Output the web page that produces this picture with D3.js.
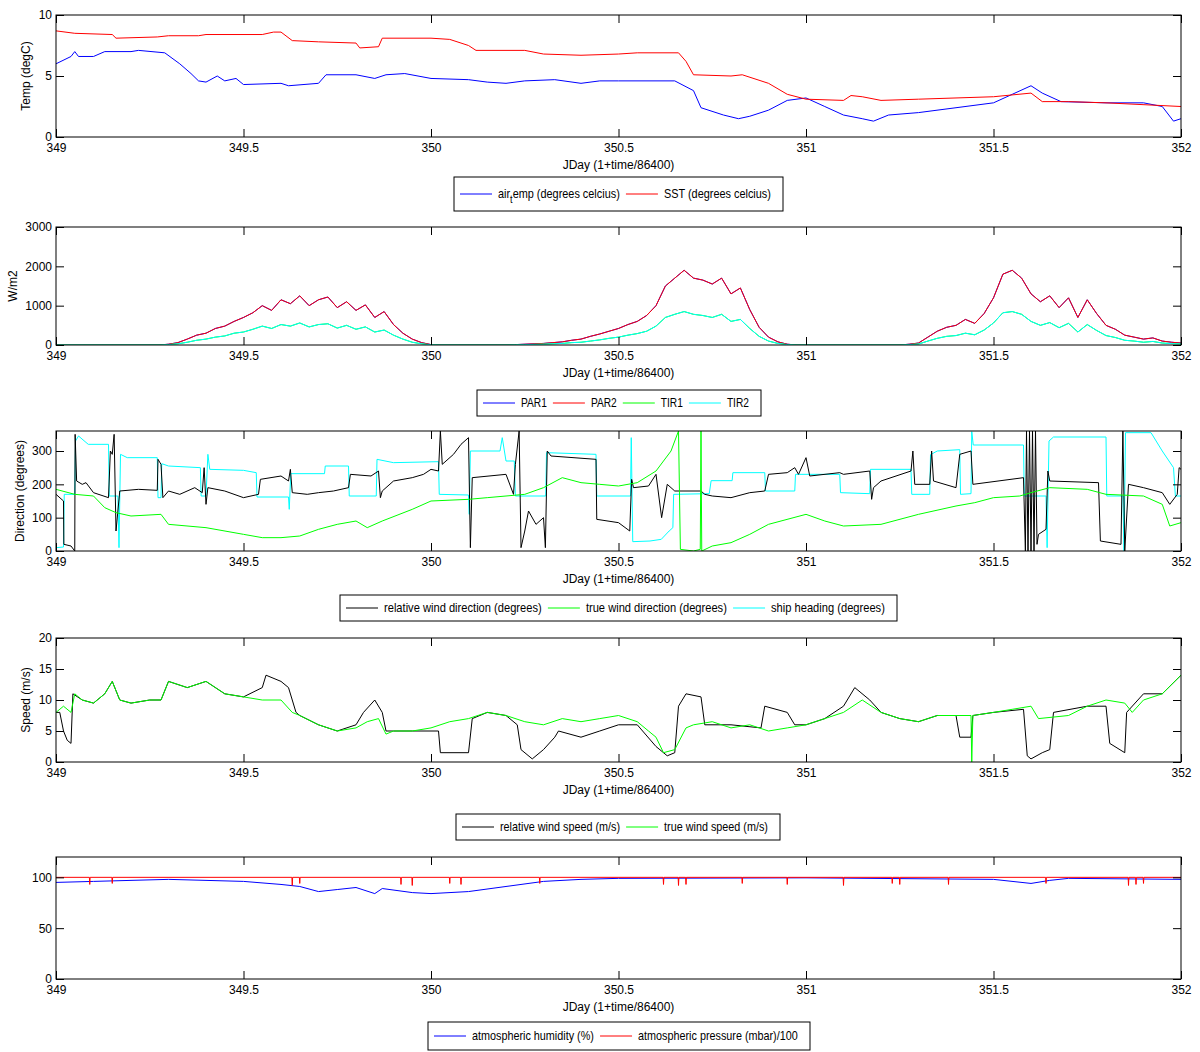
<!DOCTYPE html>
<html><head><meta charset="utf-8">
<script src="https://cdn.jsdelivr.net/npm/d3@7"></script>
<style>body{margin:0;background:#fff}text{font-family:"Liberation Sans",Arial,sans-serif;font-size:12px}</style>
</head><body>
<script>
// ---- data ----
var xTicks = [349, 349.5, 350, 350.5, 351, 351.5, 352];

var airTemp = [[349,6.0],[349.04,6.6],[349.05,7.0],[349.06,6.6],[349.1,6.6],[349.13,7.0],[349.2,7.0],[349.22,7.1],[349.29,6.9],[349.33,6.0],[349.36,5.2],[349.38,4.6],[349.4,4.5],[349.43,5.0],[349.45,4.6],[349.48,4.8],[349.5,4.3],[349.6,4.4],[349.62,4.2],[349.7,4.4],[349.72,5.1],[349.8,5.1],[349.85,4.8],[349.88,5.1],[349.93,5.2],[350.0,4.8],[350.1,4.7],[350.15,4.5],[350.2,4.4],[350.25,4.6],[350.33,4.7],[350.4,4.4],[350.45,4.6],[350.5,4.6],[350.65,4.6],[350.7,3.8],[350.72,2.4],[350.78,1.8],[350.82,1.5],[350.85,1.7],[350.9,2.2],[350.95,3.0],[351.0,3.2],[351.05,2.5],[351.1,1.8],[351.15,1.5],[351.18,1.3],[351.22,1.8],[351.3,2.0],[351.4,2.4],[351.5,2.8],[351.55,3.5],[351.6,4.2],[351.63,3.6],[351.68,2.9],[351.8,2.8],[351.9,2.8],[351.95,2.5],[351.98,1.3],[352,1.5]];
var sst = [[349,8.7],[349.05,8.5],[349.15,8.4],[349.16,8.1],[349.27,8.2],[349.3,8.3],[349.38,8.3],[349.4,8.4],[349.55,8.4],[349.58,8.6],[349.6,8.6],[349.63,7.9],[349.7,7.8],[349.8,7.7],[349.81,7.3],[349.86,7.4],[349.87,8.1],[350.0,8.1],[350.05,8.0],[350.1,7.5],[350.12,7.1],[350.25,7.1],[350.3,6.8],[350.4,6.7],[350.5,6.8],[350.55,6.9],[350.66,6.9],[350.68,6.2],[350.7,5.1],[350.8,5.0],[350.83,5.1],[350.9,4.4],[350.95,3.5],[351.0,3.1],[351.1,3.0],[351.12,3.4],[351.15,3.3],[351.2,3.0],[351.3,3.1],[351.4,3.2],[351.5,3.3],[351.6,3.6],[351.63,2.9],[351.7,2.9],[351.8,2.8],[352,2.5]];

// radiation sampled every 0.025 day from 349
var radStart = 349, radStep = 0.025;
var par = [0,0,0,0,0,0,0,0,0,0,0,0,20,60,150,250,300,420,480,600,700,820,1000,880,1150,1050,1250,1000,1150,1220,950,1100,880,1020,700,850,520,300,150,60,10,
 0,0,0,0,0,0,0,0,10,20,30,40,60,80,120,150,220,280,350,420,520,600,750,1000,1500,1700,1900,1700,1650,1550,1700,1300,1450,900,450,200,80,20,0,0,
 0,0,0,0,0,0,0,0,0,0,20,50,200,350,450,500,650,550,800,1200,1800,1900,1700,1300,1100,1250,950,1200,700,1150,800,500,400,250,200,150,180,100,70,50];
var tir = [0,0,0,0,0,0,0,0,0,0,0,0,10,30,70,120,150,200,230,300,330,400,480,420,520,480,560,460,520,540,430,500,400,460,330,380,250,150,70,30,5,
 0,0,0,0,0,0,0,0,5,10,15,20,30,40,60,70,100,130,170,200,250,290,350,480,700,780,850,780,750,700,780,600,650,420,220,100,40,10,0,0,
 0,0,0,0,0,0,0,0,0,0,10,25,100,170,220,240,300,260,380,560,820,850,780,600,500,570,440,550,330,520,370,240,190,120,100,70,90,50,35,25];

var shipHeading = [[349,10],[349.02,12],[349.022,170],[349.05,170],[349.052,330],[349.06,345],[349.086,320],[349.14,320],[349.142,165],[349.165,165],[349.168,10],[349.172,290],[349.19,280],[349.27,280],[349.272,160],[349.28,160],[349.282,262],[349.3,255],[349.385,250],[349.387,165],[349.4,165],[349.405,290],[349.41,245],[349.5,242],[349.534,235],[349.536,162],[349.62,162],[349.622,125],[349.626,232],[349.716,232],[349.718,255],[349.78,255],[349.782,165],[349.854,165],[349.856,275],[349.9,265],[350.02,268],[350.022,170],[350.1,168],[350.102,110],[350.105,300],[350.184,300],[350.19,340],[350.2,270],[350.222,270],[350.225,165],[350.306,165],[350.308,295],[350.44,290],[350.442,165],[350.532,165],[350.534,340],[350.538,28],[350.584,30],[350.614,35],[350.635,60],[350.645,70],[350.647,170],[350.742,172],[350.747,211],[350.803,211],[350.805,235],[350.89,235],[350.892,180],[350.97,180],[350.972,230],[351.09,230],[351.092,175],[351.17,172],[351.172,245],[351.28,245],[351.282,170],[351.33,170],[351.332,289],[351.35,300],[351.41,304],[351.412,170],[351.44,172],[351.442,358],[351.446,318],[351.58,318],[351.582,165],[351.64,165],[351.643,10],[351.648,330],[351.66,342],[351.8,342],[351.802,165],[351.845,165],[351.848,0],[351.852,355],[351.92,355],[351.95,300],[351.98,250],[351.985,165],[352,165]];
var relDir = [[349,170],[349.02,150],[349.021,20],[349.04,15],[349.05,0],[349.051,350],[349.055,210],[349.07,200],[349.08,205],[349.1,175],[349.14,160],[349.145,300],[349.15,290],[349.155,350],[349.16,60],[349.17,180],[349.22,185],[349.27,182],[349.272,275],[349.28,260],[349.285,160],[349.3,180],[349.33,170],[349.37,190],[349.39,175],[349.395,250],[349.4,140],[349.405,190],[349.45,180],[349.5,160],[349.54,170],[349.545,215],[349.6,225],[349.62,210],[349.625,245],[349.63,175],[349.67,170],[349.7,175],[349.74,180],[349.78,190],[349.785,230],[349.84,225],[349.86,240],[349.865,160],[349.87,180],[349.9,210],[349.95,220],[349.98,230],[350,245],[350.02,240],[350.025,360],[350.03,260],[350.06,290],[350.08,320],[350.1,340],[350.105,10],[350.11,220],[350.2,230],[350.22,170],[350.225,260],[350.235,360],[350.24,10],[350.25,60],[350.26,120],[350.28,80],[350.3,100],[350.305,10],[350.31,300],[350.32,285],[350.44,275],[350.442,95],[350.5,85],[350.53,60],[350.535,215],[350.54,190],[350.58,195],[350.6,230],[350.615,100],[350.63,200],[350.65,180],[350.72,180],[350.73,170],[350.75,165],[350.8,160],[350.85,175],[350.89,180],[350.9,230],[350.95,235],[350.97,250],[350.98,230],[351,280],[351.01,225],[351.09,235],[351.1,230],[351.17,240],[351.175,155],[351.18,190],[351.2,210],[351.28,240],[351.285,300],[351.29,200],[351.33,200],[351.335,300],[351.34,210],[351.4,190],[351.41,290],[351.44,300],[351.445,200],[351.58,220],[351.585,0],[351.588,360],[351.592,0],[351.596,360],[351.6,0],[351.604,360],[351.608,0],[351.612,360],[351.616,20],[351.62,50],[351.64,65],[351.645,240],[351.65,210],[351.78,205],[351.785,30],[351.84,20],[351.845,360],[351.85,0],[351.86,200],[351.9,190],[351.95,175],[351.97,140],[351.99,170],[351.995,250],[352,245]];
var trueDir = [[349,185],[349.05,170],[349.1,165],[349.13,130],[349.16,115],[349.2,105],[349.28,110],[349.3,80],[349.4,70],[349.5,50],[349.55,40],[349.6,40],[349.65,45],[349.7,65],[349.75,80],[349.8,90],[349.83,70],[349.87,90],[349.95,125],[350,150],[350.1,155],[350.15,160],[350.2,165],[350.25,170],[350.3,190],[350.35,220],[350.4,205],[350.45,200],[350.5,195],[350.55,205],[350.6,240],[350.64,300],[350.66,360],[350.665,5],[350.7,0],[350.718,5],[350.72,360],[350.722,0],[350.75,15],[350.8,25],[350.85,50],[350.9,80],[351,110],[351.05,90],[351.1,75],[351.2,80],[351.3,110],[351.4,135],[351.45,145],[351.5,160],[351.57,165],[351.6,175],[351.65,190],[351.75,185],[351.8,170],[351.9,165],[351.95,140],[351.97,75],[352,85]];

var trueSpeed = [[349,8],[349.02,9],[349.04,8],[349.05,11],[349.07,10],[349.1,9.5],[349.13,11],[349.15,13],[349.17,10],[349.2,9.5],[349.25,10],[349.28,10],[349.3,13],[349.35,12],[349.4,13],[349.45,11],[349.5,10.5],[349.55,10],[349.6,10],[349.63,8],[349.65,7.5],[349.7,6],[349.75,5],[349.8,5.5],[349.83,6.5],[349.86,7],[349.88,4.5],[349.9,5],[349.95,5],[350,5.5],[350.05,6.5],[350.1,7],[350.15,8],[350.2,7.5],[350.25,6.5],[350.3,6],[350.35,7],[350.4,6.5],[350.45,7],[350.5,7.5],[350.55,6.5],[350.58,5],[350.6,4],[350.62,1.5],[350.65,2],[350.68,5.5],[350.7,6],[350.75,6.5],[350.8,5.5],[350.85,6],[350.9,5],[350.95,5.5],[351,6],[351.05,7],[351.1,8],[351.15,10],[351.2,8],[351.25,7],[351.3,6.5],[351.35,7.5],[351.44,7.5],[351.442,0],[351.445,7.5],[351.5,8],[351.55,8.5],[351.6,9],[351.62,7],[351.7,7.5],[351.75,9],[351.8,10],[351.85,9.5],[351.87,8],[351.9,10],[351.95,11],[352,14]];
var relSpeed = [[349,8],[349.01,8],[349.02,5],[349.03,3.5],[349.04,3],[349.045,11],[349.07,10],[349.1,9.5],[349.13,11],[349.15,13],[349.17,10],[349.2,9.5],[349.25,10],[349.28,10],[349.3,13],[349.35,12],[349.4,13],[349.45,11],[349.5,10.5],[349.55,12],[349.56,14],[349.6,13],[349.62,12],[349.64,8],[349.65,7.5],[349.7,6],[349.75,5],[349.8,6],[349.82,8],[349.85,10],[349.87,8],[349.88,5],[349.9,5],[349.95,5],[350.02,5],[350.025,1.5],[350.1,1.5],[350.11,7],[350.15,8],[350.2,7.5],[350.23,6],[350.24,2],[350.27,0.5],[350.3,2],[350.33,4],[350.34,5],[350.4,4],[350.45,5],[350.5,6],[350.55,6],[350.6,2.5],[350.63,1],[350.65,1.5],[350.66,9],[350.68,11],[350.72,10.5],[350.73,6],[350.8,6],[350.88,5.5],[350.89,9],[350.95,8],[350.97,6],[351,6],[351.05,7],[351.1,9],[351.13,12],[351.17,10],[351.2,8],[351.25,7],[351.3,6.5],[351.35,7.5],[351.4,7.5],[351.41,4],[351.44,4],[351.445,7.5],[351.5,8],[351.58,8.5],[351.59,1],[351.6,0.5],[351.63,1.5],[351.65,2],[351.66,8],[351.75,9],[351.8,9],[351.81,3],[351.85,1.5],[351.855,8],[351.9,11],[351.95,11],[352,14]];

var humidity = [[349,95],[349.1,96],[349.3,98],[349.5,96],[349.6,93],[349.65,91],[349.7,86],[349.75,88],[349.8,90],[349.85,84],[349.87,89],[349.95,85],[350,84],[350.1,86],[350.2,91],[350.3,96],[350.4,98],[350.5,99],[351,99.5],[351.5,98],[351.6,94],[351.65,97],[351.7,99],[352,98]];
var pressureLevel = 100;
var pressureDips = [349.09,349.15,349.63,349.65,349.92,349.95,350.05,350.08,350.29,350.62,350.66,350.68,350.83,350.95,351.1,351.23,351.25,351.38,351.64,351.86,351.88,351.9];
var pressureDipDepth = [93,94,92,94,93,92,94,93,94,93,92,93,94,93,92,94,93,93,94,92,93,94];

// ---- layout ----
var W = 1200, H = 1052, x0 = 56, x1 = 1181;
var svg = d3.select("body").append("svg").attr("width", W).attr("height", H);
var x = d3.scaleLinear().domain([349, 352]).range([x0, x1]);

function panel(top, bottom, ymax, yticks, ylabel, labelX, series) {
  var y = d3.scaleLinear().domain([0, ymax]).range([bottom, top]);
  var g = svg.append("g");
  var clipId = "c" + top;
  g.append("clipPath").attr("id", clipId).append("rect")
    .attr("x", x0).attr("y", top).attr("width", x1 - x0).attr("height", bottom - top);
  series.forEach(function(s) {
    g.append("path").datum(s.data)
      .attr("clip-path", "url(#" + clipId + ")")
      .attr("fill", "none").attr("stroke", s.color).attr("stroke-width", s.w || 1)
      .attr("d", d3.line().x(function(d) { return x(d[0]); }).y(function(d) { return y(d[1]); }));
  });
  g.append("rect").attr("x", x0).attr("y", top).attr("width", x1 - x0).attr("height", bottom - top)
    .attr("fill", "none").attr("stroke", "#000");
  function clean(a) { a.select(".domain").remove(); a.selectAll("line").attr("stroke", "#000"); }
  g.append("g").attr("transform", "translate(0," + bottom + ")")
    .call(d3.axisBottom(x).tickValues(xTicks).tickSizeInner(-8).tickSizeOuter(0).tickPadding(6).tickFormat(d3.format(""))).call(clean);
  g.append("g").attr("transform", "translate(0," + top + ")")
    .call(d3.axisTop(x).tickValues(xTicks).tickSizeInner(-8).tickSizeOuter(0).tickFormat("")).call(clean);
  g.append("g").attr("transform", "translate(" + x0 + ",0)")
    .call(d3.axisLeft(y).tickValues(yticks).tickSizeInner(-8).tickSizeOuter(0).tickPadding(4).tickFormat(d3.format("d"))).call(clean);
  g.append("g").attr("transform", "translate(" + x1 + ",0)")
    .call(d3.axisRight(y).tickValues(yticks).tickSizeInner(-8).tickSizeOuter(0).tickFormat("")).call(clean);
  g.selectAll(".tick text").attr("fill", "#000").style("font-size", "12px");
  g.append("text").attr("x", (x0 + x1) / 2).attr("y", bottom + 32).attr("text-anchor", "middle").text("JDay (1+time/86400)");
  if (ylabel) g.append("text").attr("transform", "translate(" + labelX + "," + (top + bottom) / 2 + ") rotate(-90)")
    .attr("text-anchor", "middle").text(ylabel);
}

// legend texts are condensed to fit the box, as in the narrow font of the original
function legend(lx, ly, lw, lh, items) {
  var g = svg.append("g");
  g.append("rect").attr("x", lx).attr("y", ly).attr("width", lw).attr("height", lh)
    .attr("fill", "#fff").attr("stroke", "#000");
  var cy = ly + lh / 2;
  var texts = items.map(function(it) {
    var t = g.append("text").attr("y", cy + 4);
    if (it.sub) {
      t.append("tspan").text(it.sub[0]);
      t.append("tspan").attr("dy", 5).style("font-size", "10px").text(it.sub[1]);
      t.append("tspan").attr("dy", -5).text(it.sub[2]);
    } else t.text(it.label);
    return t;
  });
  var natural = d3.sum(texts, function(t) { return t.node().getComputedTextLength(); });
  var avail = lw - 12 - items.length * 44;
  var k = Math.min(1, avail / natural);
  var cx = lx + 6;
  items.forEach(function(it, i) {
    g.append("line").attr("x1", cx).attr("x2", cx + 32).attr("y1", cy).attr("y2", cy).attr("stroke", it.color);
    var w = texts[i].node().getComputedTextLength() * k;
    texts[i].attr("transform", "translate(" + (cx + 38) + ",0) scale(" + k + ",1)");
    cx += 44 + w;
  });
}

function radSeries(vals) {
  return vals.map(function(v, i) { return [radStart + i * radStep, v]; });
}
var pressure = [[349, pressureLevel]];
pressureDips.forEach(function(d, i) {
  pressure.push([d - 0.001, pressureLevel], [d, pressureDipDepth[i]], [d + 0.001, pressureLevel]);
});
pressure.push([352, pressureLevel]);

panel(15, 137, 10, [0, 5, 10], "Temp (degC)", 30, [
  {data: airTemp, color: "#0000ff"}, {data: sst, color: "#ff0000"}]);
legend(454, 177, 329, 34, [
  {color: "#0000ff", sub: ["air", "t", "emp (degrees celcius)"]},
  {color: "#ff0000", label: "SST (degrees celcius)"}]);

panel(227, 345, 3000, [0, 1000, 2000, 3000], "W/m2", 17, [
  {data: radSeries(par), color: "#0000ff"}, {data: radSeries(par), color: "#ff0000"},
  {data: radSeries(tir), color: "#00ff00"}, {data: radSeries(tir), color: "#00ffff"}]);
legend(477, 390, 284, 26, [
  {color: "#0000ff", label: "PAR1"}, {color: "#ff0000", label: "PAR2"},
  {color: "#00ff00", label: "TIR1"}, {color: "#00ffff", label: "TIR2"}]);

panel(431, 551, 360, [0, 100, 200, 300], "Direction (degrees)", 24, [
  {data: shipHeading, color: "#00ffff"}, {data: relDir, color: "#000000"}, {data: trueDir, color: "#00ff00"}]);
legend(340, 595, 557, 26, [
  {color: "#000000", label: "relative wind direction (degrees)"},
  {color: "#00ff00", label: "true wind direction (degrees)"},
  {color: "#00ffff", label: "ship heading (degrees)"}]);

panel(638, 762, 20, [0, 5, 10, 15, 20], "Speed (m/s)", 30, [
  {data: relSpeed, color: "#000000"}, {data: trueSpeed, color: "#00ff00"}]);
legend(456, 814, 324, 26, [
  {color: "#000000", label: "relative wind speed (m/s)"},
  {color: "#00ff00", label: "true wind speed (m/s)"}]);

panel(857, 979, 120, [0, 50, 100], "", 30, [
  {data: humidity, color: "#0000ff"}, {data: pressure, color: "#ff0000"}]);
legend(428, 1022, 382, 28, [
  {color: "#0000ff", label: "atmospheric humidity (%)"},
  {color: "#ff0000", label: "atmospheric pressure (mbar)/100"}]);
</script>
</body></html>
